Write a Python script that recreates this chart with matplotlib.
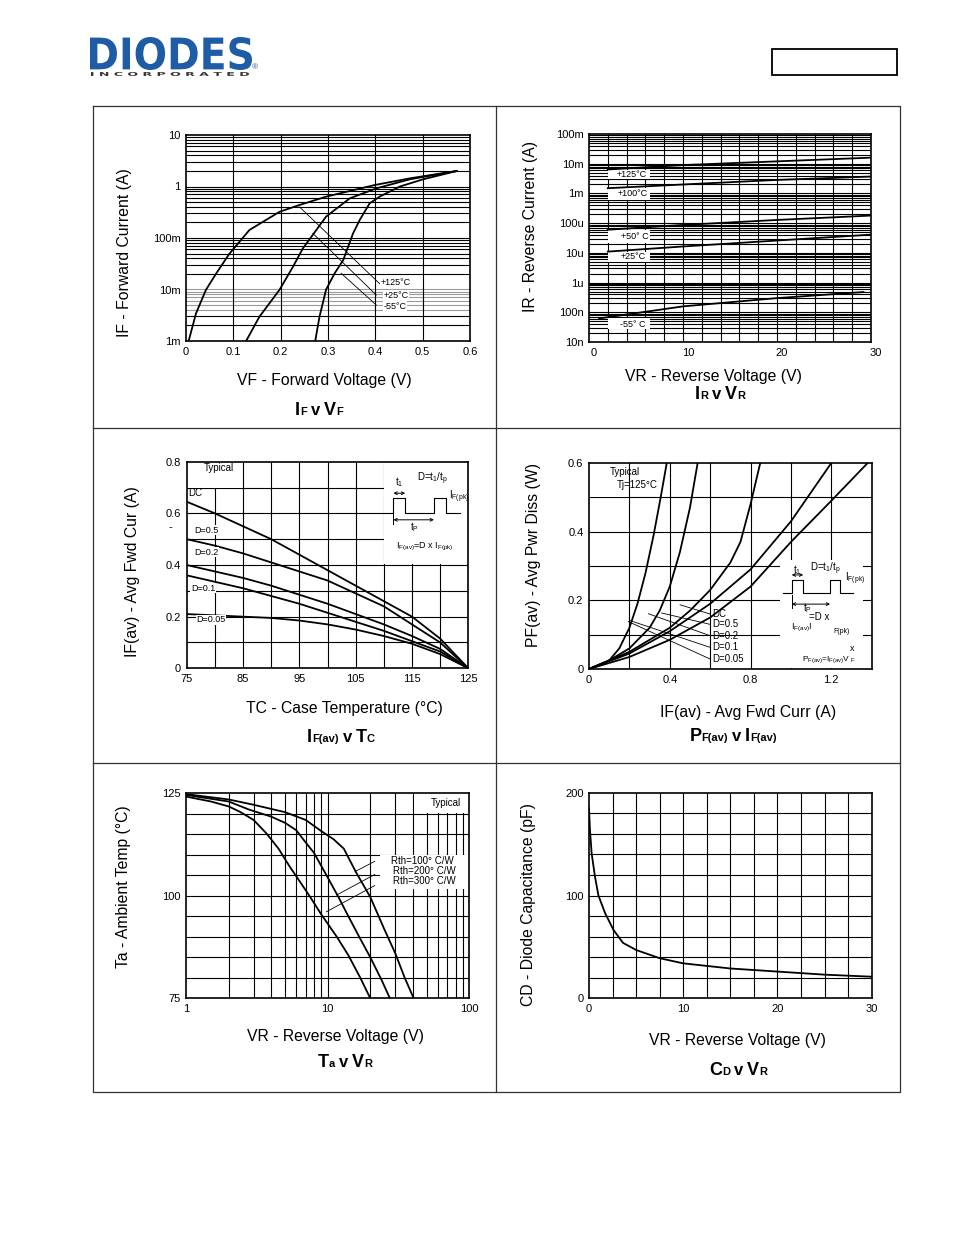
import numpy as np
import matplotlib.pyplot as plt
from matplotlib.patches import Rectangle, PathPatch
from matplotlib.textpath import TextPath
from matplotlib.font_manager import FontProperties
from matplotlib.transforms import Affine2D, ScaledTranslation

plt.rcParams['font.family'] = ['Liberation Sans', 'DejaVu Sans']
plt.rcParams['mathtext.fontset'] = 'custom'
plt.rcParams['mathtext.rm'] = 'Liberation Sans'
plt.rcParams['mathtext.it'] = 'Liberation Sans:italic'
plt.rcParams['mathtext.bf'] = 'Liberation Sans:bold'

W, H = 954, 1235

# IF v VF
vf_125 = [0.0056, 0.021, 0.042, 0.064, 0.092, 0.134, 0.169, 0.198, 0.240, 0.296, 0.346, 0.399, 0.473, 0.572]
if_125 = [1e-3, 3.4e-3, 9.8e-3, 0.0206, 0.050, 0.143, 0.224, 0.324, 0.438, 0.635, 0.818, 1.07, 1.44, 2.0]
vf_25 = [0.127, 0.155, 0.198, 0.226, 0.247, 0.296, 0.346, 0.402, 0.473, 0.572]
if_25 = [1e-3, 2.95e-3, 0.01, 0.0277, 0.063, 0.26, 0.589, 0.92, 1.38, 2.0]
vf_m55 = [0.273, 0.282, 0.296, 0.314, 0.332, 0.353, 0.367, 0.388, 0.409, 0.452, 0.501, 0.572]
if_m55 = [1e-3, 2.95e-3, 0.01, 0.0206, 0.037, 0.123, 0.224, 0.471, 0.635, 1.0, 1.38, 2.0]

# IR v VR
vr_ir = [2, 10, 20, 30]
ir_125 = [6.4e-3, 9e-3, 12e-3, 16e-3]
ir_100 = [1.5e-3, 2.0e-3, 2.85e-3, 3.7e-3]
ir_50 = [60e-6, 87e-6, 128e-6, 180e-6]
ir_25 = [11e-6, 16.4e-6, 26e-6, 41e-6]
vr_ir_m55 = [1.06, 10, 20, 29.2]
ir_m55 = [62e-9, 158e-9, 300e-9, 480e-9]

# IF(av) v TC
tc = [75, 80, 85, 90, 95, 100, 105, 110, 115, 120, 125]
ifav_dc = [0.645, 0.60, 0.55, 0.50, 0.44, 0.38, 0.32, 0.26, 0.20, 0.115, 0.0]
ifav_d05 = [0.50, 0.475, 0.445, 0.41, 0.375, 0.34, 0.29, 0.24, 0.17, 0.10, 0.0]
ifav_d02 = [0.40, 0.375, 0.35, 0.32, 0.285, 0.25, 0.21, 0.17, 0.125, 0.075, 0.0]
ifav_d01 = [0.36, 0.335, 0.31, 0.28, 0.25, 0.215, 0.18, 0.145, 0.105, 0.065, 0.0]
ifav_d005 = [0.21, 0.205, 0.20, 0.195, 0.185, 0.17, 0.15, 0.125, 0.095, 0.055, 0.0]

# PF(av) v IF(av)
pw_if_a = [0, 0.1, 0.15, 0.2, 0.24, 0.28, 0.32, 0.355, 0.385]
pw_a = [0, 0.025, 0.06, 0.12, 0.19, 0.28, 0.39, 0.50, 0.60]
pw_if_b = [0, 0.1, 0.2, 0.3, 0.35, 0.4, 0.45, 0.5, 0.538]
pw_b = [0, 0.025, 0.06, 0.12, 0.17, 0.24, 0.34, 0.47, 0.60]
pw_if_c = [0, 0.2, 0.4, 0.5, 0.6, 0.7, 0.75, 0.8, 0.848]
pw_c = [0, 0.05, 0.12, 0.17, 0.23, 0.31, 0.37, 0.48, 0.60]
pw_if_d = [0, 0.2, 0.4, 0.6, 0.8, 1.0, 1.2]
pw_d = [0, 0.045, 0.11, 0.19, 0.29, 0.43, 0.60]
pw_if_e = [0, 0.2, 0.4, 0.6, 0.8, 1.0, 1.2, 1.38]
pw_e = [0, 0.035, 0.085, 0.15, 0.24, 0.37, 0.49, 0.60]

# Ta v VR
vr_r100 = [1, 2, 3, 5, 7, 9, 11, 13, 16, 20, 25, 30, 35, 40.5]
ta_r100 = [124.8, 123.5, 122.2, 120.4, 118.5, 115.8, 113.8, 111.5, 105.5, 99.7, 92, 86, 80, 75]
vr_r200 = [1, 2, 2.8, 4, 5, 6, 7, 8, 10, 12, 14, 17, 20, 24, 27.5]
ta_r200 = [124.6, 123, 121, 119.3, 117.8, 116, 113, 110.5, 104.5, 99.5, 95, 89.5, 85, 79.5, 75]
vr_r300 = [1, 1.5, 2, 2.4, 3, 3.7, 4.5, 5.4, 6.5, 7.5, 9, 11.6, 14, 17, 20]
ta_r300 = [124.2, 123, 121.8, 120.5, 118.5, 115.2, 111.5, 107.1, 103, 99.8, 95.5, 90, 85.5, 80, 75]

# CD v VR
vr_cd = [0, 0.1, 0.28, 0.64, 1, 1.7, 2.6, 3.6, 5, 7.5, 10, 15, 20, 25, 30]
cd = [185, 164, 141, 118, 100, 83, 66.5, 54, 47, 39, 34, 29, 26, 23, 21]

LABEL = 11.3

fig = plt.figure(figsize=(W / 100, H / 100), dpi=100)
page = fig.add_axes([0, 0, 1, 1])
page.set_xlim(0, W)
page.set_ylim(H, 0)
page.axis('off')


def panel(left, top, right, bottom):
    ax = fig.add_axes([left / W, 1 - bottom / H, (right - left) / W, (bottom - top) / H])
    ax.tick_params(length=0, labelsize=8, pad=4)
    for s in ax.spines.values():
        s.set_linewidth(1.2)
        s.set_zorder(3)
    return ax


def hgrid(ax, values, color='k'):
    for v in values:
        ax.axhline(v, color=color, lw=0.8, zorder=0.5)


def vgrid(ax, values):
    for v in values:
        ax.axvline(v, color='k', lw=0.8, zorder=0.5)


def blank(ax, x0, y0, x1, y1):
    ax.add_patch(Rectangle((x0, y0), x1 - x0, y1 - y0, facecolor='white',
                           edgecolor='none', zorder=0.7))


def curve(ax, x, y):
    ax.plot(x, y, color='k', lw=1.3, zorder=2)


def note(ax, x, y, s, size=6.5, ha='left', box=False):
    kw = dict(facecolor='white', edgecolor='none', pad=0.5) if box else None
    ax.text(x, y, s, fontsize=size, ha=ha, va='center', zorder=4, bbox=kw)


def leader(ax, p0, p1):
    ax.plot([p0[0], p1[0]], [p0[1], p1[1]], color='k', lw=0.6, zorder=2)


def arrow(ax, x0, x1, y):
    ax.annotate('', xy=(x1, y), xytext=(x0, y),
                arrowprops=dict(arrowstyle='<->', lw=0.7, shrinkA=0, shrinkB=0,
                                mutation_scale=5), zorder=4)


def rich(x, y, parts):
    r = fig.canvas.get_renderer()
    items = []
    for s, size, gap in parts:
        t = page.text(0, y, s, fontsize=size, fontweight='bold', va='baseline', ha='left')
        items.append((t, t.get_window_extent(r).width, gap))
    total = sum(w + g for _, w, g in items) - items[-1][2]
    cx = x - total / 2
    for t, w, g in items:
        t.set_x(cx)
        cx += w + g


def fit_text(s, x0, y0, x1, y1, color, prop):
    tp = TextPath((0, 0), s, size=10, prop=prop)
    bb = tp.get_extents()
    tr = (Affine2D().translate(-bb.x0, -bb.y0)
          .scale((x1 - x0) / bb.width, -(y1 - y0) / bb.height)
          .translate(x0, y1) + page.transData)
    page.add_patch(PathPatch(tp, transform=tr, facecolor=color, edgecolor='none'))


# page furniture
for xs, ys in [([93, 900, 900, 93, 93], [106, 106, 1092, 1092, 106]),
               ([496, 496], [106, 1092]), ([93, 900], [428, 428]), ([93, 900], [763, 763])]:
    page.plot(xs, ys, color='#333333', lw=0.9)
page.add_patch(Rectangle((772, 49), 125, 26, facecolor='none', edgecolor='k', lw=1.3))
blue = '#1F5CA6'
fit_text('DIODES', 90, 37, 252, 70, blue, FontProperties(family='DejaVu Sans', weight='bold'))
fit_text('I N C O R P O R A T E D', 91, 72, 249, 76, '#333333',
         FontProperties(family='DejaVu Sans', weight='bold'))
page.text(255, 68, '\u00ae', fontsize=6, color=blue, ha='center', va='center')

# ---------------- IF v VF ----------------
ax1 = panel(186, 135, 470, 341)
ax1.set_yscale('log')
ax1.set_xlim(0, 0.6)
ax1.set_ylim(1e-3, 10)
for d in range(-3, 1):
    for k in range(1, 10):
        gray = (d == -3 and k >= 4) or (d == -2 and k == 1)
        ax1.axhline(k * 10.0 ** d, color='#9a9a9a' if gray else 'k', lw=0.8, zorder=0.5)
vgrid(ax1, [0.1, 0.2, 0.3, 0.4, 0.5])
curve(ax1, vf_125, if_125)
curve(ax1, vf_25, if_25)
curve(ax1, vf_m55, if_m55)
leader(ax1, (0.240, 0.40), (0.409, 0.013))
leader(ax1, (0.268, 0.123), (0.402, 0.0078))
leader(ax1, (0.328, 0.0206), (0.402, 0.005))
note(ax1, 0.411, 0.0135, '+125\u00b0C', box=True)
note(ax1, 0.417, 0.0076, '+25\u00b0C', box=True)
note(ax1, 0.417, 0.0047, '-55\u00b0C', box=True)
ax1.set_xticks([0, 0.1, 0.2, 0.3, 0.4, 0.5, 0.6], ['0', '0.1', '0.2', '0.3', '0.4', '0.5', '0.6'])
ax1.set_yticks([1e-3, 1e-2, 1e-1, 1, 10], ['1m', '10m', '100m', '1', '10'])
ax1.minorticks_off()
page.text(125, 253, 'IF - Forward Current (A)', rotation=90, ha='center', va='center', fontsize=LABEL)
page.text(324, 381, 'VF - Forward Voltage (V)', ha='center', va='center', fontsize=LABEL)
rich(319, 415, [('I', 13, 0), ('F', 8, 4), ('v', 12, 4), ('V', 13, 0), ('F', 8, 0)])

# ---------------- IR v VR ----------------
ax2 = panel(589, 134, 871, 342)
ax2.set_yscale('log')
ax2.set_xlim(0, 30)
ax2.set_ylim(1e-8, 1e-1)
for d in range(-8, -1):
    hgrid(ax2, [k * 10.0 ** d for k in range(1, 10)])
vgrid(ax2, np.arange(2, 30, 2))
for y0, y1 in [(3.0e-3, 6.2e-3), (0.6e-3, 1.48e-3), (22e-6, 59e-6), (5e-6, 11e-6), (28e-9, 62e-9)]:
    blank(ax2, 2, y0, 6.5, y1)
curve(ax2, vr_ir, ir_125)
curve(ax2, vr_ir, ir_100)
curve(ax2, vr_ir, ir_50)
curve(ax2, vr_ir, ir_25)
curve(ax2, vr_ir_m55, ir_m55)
note(ax2, 4.5, 4.4e-3, '+125\u00b0C', ha='center')
note(ax2, 4.6, 0.98e-3, '+100\u00b0C', ha='center')
note(ax2, 4.9, 36e-6, '+50\u00b0 C', ha='center')
note(ax2, 4.7, 7.5e-6, '+25\u00b0C', ha='center')
note(ax2, 4.7, 40e-9, '-55\u00b0 C', ha='center')
ax2.set_xticks([0, 10, 20, 30], ['0', '10', '20', '30'])
ax2.set_yticks([1e-8, 1e-7, 1e-6, 1e-5, 1e-4, 1e-3, 1e-2, 1e-1],
               ['10n', '100n', '1u', '10u', '100u', '1m', '10m', '100m'])
ax2.minorticks_off()
shift = ScaledTranslation(5 / 100, 0, fig.dpi_scale_trans)
for lbl in ax2.get_xticklabels():
    lbl.set_transform(lbl.get_transform() + shift)
page.text(531, 227, 'IR - Reverse Current (A)', rotation=90, ha='center', va='center', fontsize=LABEL)
page.text(713, 376, 'VR - Reverse Voltage (V)', ha='center', va='center', fontsize=LABEL)
rich(720, 399, [('I', 13, 0), ('R', 8, 4), ('v', 12, 4), ('V', 13, 0), ('R', 8, 0)])

# ---------------- IF(av) v TC ----------------
ax3 = panel(186.7, 461.7, 468.3, 668.3)
ax3.set_xlim(75, 125)
ax3.set_ylim(0, 0.8)
hgrid(ax3, np.arange(0.1, 0.8, 0.1))
vgrid(ax3, np.arange(80, 125, 5))
blank(ax3, 75, 0.7, 84.9, 0.8)
blank(ax3, 110.1, 0.405, 125, 0.8)
for y in [ifav_dc, ifav_d05, ifav_d02, ifav_d01, ifav_d005]:
    curve(ax3, tc, y)
note(ax3, 78.0, 0.775, 'Typical', size=7)
note(ax3, 75.3, 0.68, 'DC', size=7)
note(ax3, 76.3, 0.535, 'D=0.5', box=True)
note(ax3, 76.3, 0.45, 'D=0.2', box=True)
note(ax3, 75.8, 0.31, 'D=0.1', box=True)
note(ax3, 76.7, 0.188, 'D=0.05', box=True)
pulse3_x = [109.9, 111.7, 111.7, 113.8, 113.8, 118.9, 118.9, 121.0, 121.0, 123.6]
pulse3_y = [0.603, 0.603, 0.658, 0.658, 0.603, 0.603, 0.658, 0.658, 0.603, 0.603]
ax3.plot(pulse3_x, pulse3_y, color='k', lw=0.8, zorder=4)
arrow(ax3, 111.7, 113.8, 0.678)
arrow(ax3, 111.7, 118.9, 0.575)
ax3.plot([111.7, 111.7], [0.56, 0.60], color='k', lw=0.7, zorder=4)
note(ax3, 112.7, 0.722, r't$_1$', size=7, ha='center')
note(ax3, 118.6, 0.735, r'D=t$_\mathregular{1}$/t$_\mathregular{p}$', size=7, ha='center')
note(ax3, 121.6, 0.665, r'I$_\mathregular{F(pk)}$', size=7)
note(ax3, 114.6, 0.545, r't$_\mathregular{P}$', size=7)
note(ax3, 117.3, 0.468, r'I$_\mathregular{F(av)}$=D x I$_\mathregular{F(pk)}$', size=6.5, ha='center')
ax3.set_xticks([75, 85, 95, 105, 115, 125], ['75', '85', '95', '105', '115', '125'])
ax3.set_yticks([0, 0.2, 0.4, 0.6, 0.8], ['0', '0.2', '0.4', '0.6', '0.8'])
page.text(170, 527, '-', ha='center', va='center', fontsize=8)
page.text(133, 572, 'IF(av) - Avg Fwd Cur (A)', rotation=90, ha='center', va='center', fontsize=LABEL)
page.text(344, 709, 'TC - Case Temperature (\u00b0C)', ha='center', va='center', fontsize=LABEL)
rich(341, 742, [('I', 13, 0), ('F(av)', 8, 4), ('v', 12, 4), ('T', 13, 0), ('C', 8, 0)])

# ---------------- PF(av) v IF(av) ----------------
ax4 = panel(589, 463, 871.7, 669)
ax4.set_xlim(0, 1.4)
ax4.set_ylim(0, 0.6)
hgrid(ax4, np.arange(0.1, 0.6, 0.1))
vgrid(ax4, np.arange(0.2, 1.4, 0.2))
blank(ax4, 0, 0.5, 0.195, 0.6)
blank(ax4, 0.946, 0.004, 1.357, 0.318)
curve(ax4, pw_if_a, pw_a)
curve(ax4, pw_if_b, pw_b)
curve(ax4, pw_if_c, pw_c)
curve(ax4, pw_if_d, pw_d)
curve(ax4, pw_if_e, pw_e)
note(ax4, 0.105, 0.575, 'Typical', size=7)
note(ax4, 0.14, 0.535, 'Tj=125\u00b0C', size=7)
for p0, p1, lab in [((0.60, 0.160), (0.451, 0.187), 'DC'),
                    ((0.60, 0.130), (0.360, 0.163), 'D=0.5'),
                    ((0.60, 0.097), (0.294, 0.161), 'D=0.2'),
                    ((0.60, 0.063), (0.203, 0.141), 'D=0.1'),
                    ((0.60, 0.029), (0.195, 0.138), 'D=0.05')]:
    leader(ax4, p0, p1)
    note(ax4, p0[0] + 0.01, p0[1], lab, size=7)
pulse4_x = [0.962, 1.004, 1.004, 1.061, 1.061, 1.194, 1.194, 1.243, 1.243, 1.309]
pulse4_y = [0.222, 0.222, 0.259, 0.259, 0.222, 0.222, 0.259, 0.259, 0.222, 0.222]
ax4.plot(pulse4_x, pulse4_y, color='k', lw=0.8, zorder=4)
arrow(ax4, 1.004, 1.061, 0.274)
arrow(ax4, 1.004, 1.194, 0.189)
ax4.plot([1.004, 1.004], [0.178, 0.215], color='k', lw=0.7, zorder=4)
note(ax4, 1.032, 0.288, r't$_1$', size=7, ha='center')
note(ax4, 1.17, 0.292, r'D=t$_\mathregular{1}$/t$_\mathregular{p}$', size=7, ha='center')
note(ax4, 1.27, 0.262, r'I$_\mathregular{F(pk)}$', size=7)
note(ax4, 1.06, 0.176, r't$_\mathregular{P}$', size=7)
note(ax4, 1.09, 0.152, '=D x', size=7)
note(ax4, 1.00, 0.12, r'I$_\mathregular{F(av)}$I', size=6.5)
note(ax4, 1.21, 0.108, 'F(pk)', size=5)
note(ax4, 1.29, 0.06, 'x', size=6.5)
note(ax4, 1.19, 0.028, r'P$_\mathregular{F(av)}$=I$_\mathregular{F(av)}$V $_\mathregular{F}$', size=6, ha='center')
ax4.set_xticks([0, 0.4, 0.8, 1.2], ['0', '0.4', '0.8', '1.2'])
ax4.set_yticks([0, 0.2, 0.4, 0.6], ['0', '0.2', '0.4', '0.6'])
page.text(534, 555, 'PF(av) - Avg Pwr Diss (W)', rotation=90, ha='center', va='center', fontsize=LABEL)
page.text(748, 712, 'IF(av) - Avg Fwd Curr (A)', ha='center', va='center', fontsize=LABEL)
rich(733, 741, [('P', 13, 0), ('F(av)', 8, 4), ('v', 12, 4), ('I', 13, 0), ('F(av)', 8, 0)])

# ---------------- Ta v VR ----------------
ax5 = panel(186, 793.3, 469.3, 998.3)
ax5.set_xscale('log')
ax5.set_xlim(1, 100)
ax5.set_ylim(75, 125)
hgrid(ax5, np.arange(80, 125, 5))
vgrid(ax5, [k * 10.0 ** d for d in (0, 1) for k in range(2, 10)] + [10])
blank(ax5, 40.5, 120.1, 100, 125)
blank(ax5, 23.5, 101.6, 100, 109.9)
curve(ax5, vr_r100, ta_r100)
curve(ax5, vr_r200, ta_r200)
curve(ax5, vr_r300, ta_r300)
leader(ax5, (15.6, 105.9), (21.5, 108.4))
leader(ax5, (11.6, 100.2), (21.5, 105.2))
leader(ax5, (9.8, 96.1), (21.5, 102.5))
note(ax5, 68, 122.6, 'Typical', size=7, ha='center')
note(ax5, 28, 108.5, 'Rth=100\u00b0 C/W', size=7)
note(ax5, 29, 106.1, 'Rth=200\u00b0 C/W', size=7)
note(ax5, 29, 103.6, 'Rth=300\u00b0 C/W', size=7)
ax5.set_xticks([1, 10, 100], ['1', '10', '100'])
ax5.set_yticks([75, 100, 125], ['75', '100', '125'])
ax5.minorticks_off()
page.text(124, 887, 'Ta - Ambient Temp (\u00b0C)', rotation=90, ha='center', va='center', fontsize=LABEL)
page.text(335, 1036, 'VR - Reverse Voltage (V)', ha='center', va='center', fontsize=LABEL)
rich(345, 1067, [('T', 13, 0), ('a', 8, 4), ('v', 12, 4), ('V', 13, 0), ('R', 8, 0)])

# ---------------- CD v VR ----------------
ax6 = panel(589, 792.7, 871.7, 998.3)
ax6.set_xlim(0, 30)
ax6.set_ylim(0, 200)
hgrid(ax6, np.arange(20, 200, 20))
vgrid(ax6, np.arange(2.5, 30, 2.5))
curve(ax6, vr_cd, cd)
ax6.set_xticks([0, 10, 20, 30], ['0', '10', '20', '30'])
ax6.set_yticks([0, 100, 200], ['0', '100', '200'])
page.text(529, 905, 'CD - Diode Capacitance (pF)', rotation=90, ha='center', va='center', fontsize=LABEL)
page.text(737, 1041, 'VR - Reverse Voltage (V)', ha='center', va='center', fontsize=LABEL)
rich(738, 1075, [('C', 13, 0), ('D', 8, 4), ('v', 12, 4), ('V', 13, 0), ('R', 8, 0)])

fig.savefig('out.png', dpi=100)
